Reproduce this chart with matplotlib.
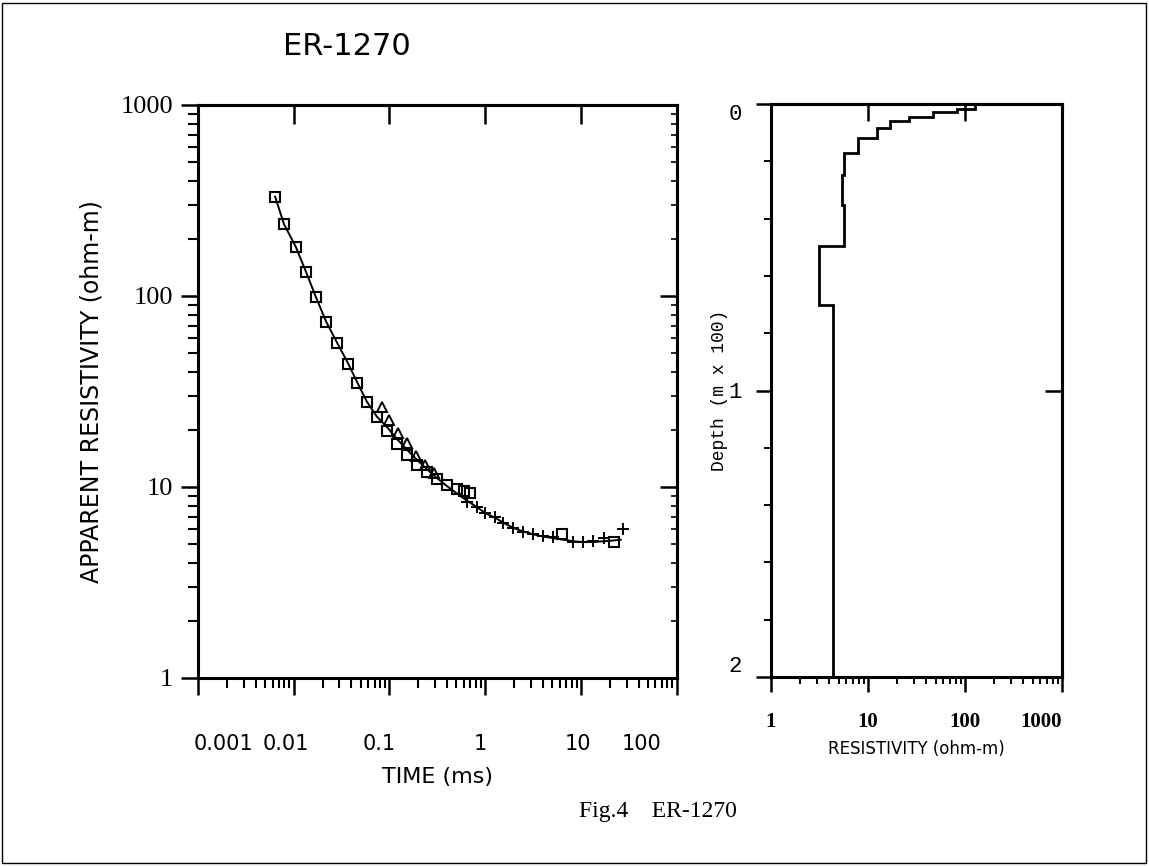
import matplotlib
matplotlib.use('Agg')
import matplotlib.pyplot as plt
import matplotlib.transforms as mtransforms
from matplotlib.ticker import LogLocator, NullFormatter, FixedLocator, MultipleLocator
from matplotlib.patches import Rectangle

# --- sounding data ---
sq_t = [0.0064, 0.0079, 0.0105, 0.0135, 0.017, 0.0218, 0.0286, 0.0372, 0.0462, 0.058,
        0.0736, 0.0951, 0.119, 0.154, 0.196, 0.249, 0.316, 0.397, 0.505, 0.60, 0.695, 6.3, 21.9]
sq_rho = [331, 238, 181, 133, 99, 73.4, 56.5, 44.1, 35.2, 28.0,
          23.2, 19.7, 16.8, 14.7, 13.0, 12.0, 11.0, 10.2, 9.72, 9.5, 9.27, 5.67, 5.17]

tri_t = [0.083, 0.099, 0.123, 0.152, 0.19, 0.235, 0.29]
tri_rho = [26.3, 22.4, 19.1, 16.9, 14.5, 13.0, 11.9]

plus_t = [0.643, 0.817, 1.0, 1.27, 1.55, 1.97, 2.51, 3.18, 4.06, 5.15, 8.35, 10.6, 13.5, 17.2, 27.8]
plus_rho = [8.38, 7.88, 7.28, 6.99, 6.45, 6.08, 5.83, 5.67, 5.54, 5.49, 5.17, 5.17, 5.23, 5.39, 6.03]

# model response curve
fit_t = [0.0064, 0.0079, 0.0105, 0.0135, 0.017, 0.0218, 0.0286, 0.0372, 0.0462, 0.058, 0.0736,
         0.095, 0.12, 0.154, 0.196, 0.25, 0.316, 0.4, 0.5, 0.64, 0.82, 1.0, 1.27, 1.55, 1.97,
         2.5, 3.2, 4.06, 5.15, 6.5, 8.3, 10.6, 13.5, 17.2, 22, 26]
fit_rho = [331, 238, 181, 133, 99, 73.4, 56.5, 44.1, 35.2, 28.0, 23.4,
           20.5, 17.8, 15.6, 13.8, 12.3, 11.1, 10.1, 9.3, 8.5, 7.85, 7.3, 6.9, 6.5, 6.1,
           5.85, 5.65, 5.5, 5.4, 5.3, 5.2, 5.15, 5.15, 5.2, 5.25, 5.3]

# layered model (depth in m x 100)
layer_rho = [127, 82, 47, 26.7, 16.9, 12.3, 7.95, 5.66, 5.36, 5.66, 3.15, 4.39]
layer_edges = [0, 0.019, 0.027, 0.047, 0.059, 0.085, 0.12, 0.172, 0.248, 0.353, 0.496, 0.70, 2.0]

time_ticks = [0.001, 0.01, 0.1, 1, 10, 100]
time_labels = ['0.001', '0.01', '0.1', '1', '10', '100']
rho_ticks = [1, 10, 100, 1000]
rho_labels = ['1', '10', '100', '1000']

fig = plt.figure(figsize=(11.49, 8.66), dpi=100)
fig.patches.append(Rectangle((0.002, 0.004), 0.995, 0.993, transform=fig.transFigure,
                             fill=False, lw=1.0, ec='black'))

mono = 'Liberation Mono'
serif = 'Liberation Serif'

# ---------------- left panel: apparent resistivity ----------------
ax = fig.add_axes([198/1149, 1-678/866, 478.7/1149, 573/866])
ax.set_xscale('log')
ax.set_yscale('log')
ax.set_xlim(0.001, 100)
ax.set_ylim(1, 1000)

ax.plot(fit_t, fit_rho, '-', color='black', lw=1.4)
ax.plot(sq_t, sq_rho, 's', mfc='none', mec='black', mew=1.5, ms=6.5)
ax.plot(tri_t, tri_rho, '^', mfc='none', mec='black', mew=1.4, ms=6.5)
ax.plot(plus_t, plus_rho, '+', color='black', mew=1.4, ms=8)

for s in ax.spines.values():
    s.set_linewidth(2.2)
ax.xaxis.set_major_locator(FixedLocator(time_ticks))
ax.set_xticklabels(time_labels, fontsize=15, family='DejaVu Sans')
ax.xaxis.set_minor_locator(LogLocator(base=10, subs=range(2, 10), numticks=20))
ax.xaxis.set_minor_formatter(NullFormatter())
ax.yaxis.set_major_locator(FixedLocator(rho_ticks))
ax.set_yticklabels(rho_labels, fontsize=19, family=serif)
ax.yaxis.set_minor_locator(LogLocator(base=10, subs=range(2, 10), numticks=20))
ax.yaxis.set_minor_formatter(NullFormatter())
ax.tick_params(which='major', direction='out', length=12, width=1.8, top=False, right=False)
ax.tick_params(which='minor', direction='out', length=7, width=1.5, top=False, right=False)
ax.tick_params(axis='x', which='major', pad=28)
ax.tick_params(axis='y', which='major', pad=6)

# nudge time labels the way the plotter put them
offsets = [25, -8, -10, -5, -3, -35]
for lab, dx in zip(ax.get_xticklabels(), offsets):
    lab.set_transform(lab.get_transform() + mtransforms.ScaledTranslation(dx/100, 0, fig.dpi_scale_trans))

top = ax.secondary_xaxis('top')
top.xaxis.set_major_locator(FixedLocator(time_ticks))
top.xaxis.set_minor_locator(FixedLocator([]))
top.tick_params(which='major', direction='in', length=14, width=1.8, labeltop=False)
top.spines['top'].set_linewidth(2.2)
right = ax.secondary_yaxis('right')
right.yaxis.set_major_locator(FixedLocator(rho_ticks))
right.yaxis.set_minor_locator(LogLocator(base=10, subs=range(2, 10), numticks=20))
right.tick_params(which='major', direction='in', length=12, width=1.8, labelright=False)
right.tick_params(which='minor', direction='in', length=4, width=1.2, labelright=False)
right.spines['right'].set_linewidth(2.2)

ax.set_xlabel('TIME (ms)', fontsize=16, labelpad=10)
ax.set_ylabel('APPARENT RESISTIVITY (ohm-m)', fontsize=17, labelpad=12)
ax.set_title('ER-1270', fontsize=22, pad=36, x=0.31)

# ---------------- right panel: layered model ----------------
ax2 = fig.add_axes([771/1149, 1-677/866, 291/1149, 573/866])
ax2.set_xscale('log')
ax2.set_xlim(1, 1000)
ax2.set_ylim(2, 0)
ax2.stairs(layer_rho, layer_edges, orientation='horizontal', baseline=None, color='black', lw=2.0)

for s in ax2.spines.values():
    s.set_linewidth(2.2)
ax2.xaxis.set_major_locator(FixedLocator(rho_ticks))
ax2.set_xticklabels(rho_labels, fontsize=15, family=serif, fontweight='bold')
ax2.xaxis.set_minor_locator(LogLocator(base=10, subs=range(2, 10), numticks=20))
ax2.xaxis.set_minor_formatter(NullFormatter())
ax2.yaxis.set_major_locator(FixedLocator([0, 1, 2]))
ax2.set_yticklabels(['0', '1', '2'], fontsize=16, family=mono)
ax2.yaxis.set_minor_locator(MultipleLocator(0.2))
ax2.tick_params(which='major', direction='out', length=11, width=1.8, top=False, right=False)
ax2.tick_params(which='minor', direction='out', length=5, width=1.4, top=False, right=False)
ax2.tick_params(axis='x', which='major', pad=14)
ax2.tick_params(axis='y', which='major', pad=10)
xl = ax2.get_xticklabels()
xl[-1].set_ha('right')
yl = ax2.get_yticklabels()
yl[0].set_va('top')
yl[-1].set_va('bottom')

top2 = ax2.secondary_xaxis('top')
top2.xaxis.set_major_locator(FixedLocator([10, 100]))
top2.xaxis.set_minor_locator(FixedLocator([]))
top2.tick_params(which='major', direction='in', length=12, width=1.8, labeltop=False)
top2.spines['top'].set_linewidth(2.2)
right2 = ax2.secondary_yaxis('right')
right2.yaxis.set_major_locator(FixedLocator([1]))
right2.yaxis.set_minor_locator(FixedLocator([]))
right2.tick_params(which='major', direction='in', length=12, width=1.8, labelright=False)
right2.spines['right'].set_linewidth(2.2)

ax2.set_xlabel('RESISTIVITY (ohm-m)', fontsize=12, labelpad=6)
ax2.set_ylabel('Depth (m x 100)', fontsize=13, family=mono, labelpad=0)

fig.text(658/1149, 1-812/866, 'Fig.4    ER-1270', fontsize=17, family=serif, ha='center', va='center')

fig.savefig('out.png', dpi=100)
